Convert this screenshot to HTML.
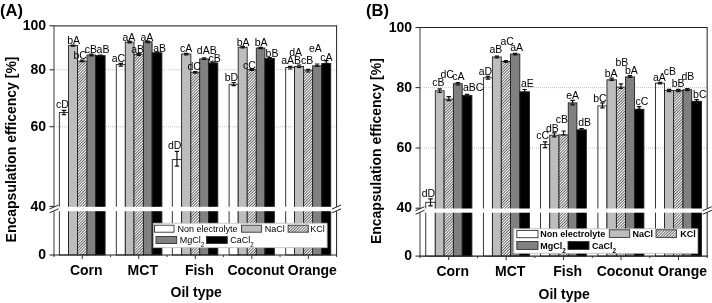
<!DOCTYPE html>
<html><head><meta charset="utf-8"><style>
html,body{margin:0;padding:0;background:#fff;width:712px;height:303px;overflow:hidden}
svg{display:block;will-change:transform}
text{font-family:"Liberation Sans",sans-serif;fill:#000}
.lab{font-size:10.5px;text-anchor:middle}
.tick{font-size:14px;font-weight:bold}
.xl{font-size:14px;font-weight:bold}
.xt{font-size:14px;font-weight:bold}
.ttl{font-size:16.5px;font-weight:bold}
.yl{font-size:14px;font-weight:bold}
.leg{font-size:9px}
.legb{font-size:9px;font-weight:bold}
</style></head><body>
<svg width="712" height="303" viewBox="0 0 712 303">
<defs><pattern id="hatch" patternUnits="userSpaceOnUse" width="2" height="2" patternTransform="rotate(45)"><rect width="2" height="2" fill="#fff"/><rect width="0.8" height="2" fill="#404040"/></pattern></defs>
<line x1="54.0" y1="69.8" x2="336.6" y2="69.8" stroke="#c4c4c4" stroke-width="1" stroke-dasharray="1,1"/>
<line x1="54.0" y1="126.8" x2="336.6" y2="126.8" stroke="#c4c4c4" stroke-width="1" stroke-dasharray="1,1"/>
<rect x="59.35" y="112.50" width="9.20" height="142.50" fill="none" stroke="#222" stroke-width="0.9"/>
<rect x="68.55" y="45.50" width="8.90" height="209.50" fill="#bdbdbd" stroke="#222" stroke-width="0.9"/>
<rect x="77.45" y="61.10" width="9.60" height="193.90" fill="url(#hatch)" stroke="#222" stroke-width="0.9"/>
<rect x="87.05" y="55.00" width="8.65" height="200.00" fill="#808080" stroke="#222" stroke-width="0.9"/>
<rect x="95.70" y="55.60" width="9.40" height="199.40" fill="#000000" stroke="#222" stroke-width="0.9"/>
<path d="M61.75 110.30H66.15M63.95 110.30V114.70M61.75 114.70H66.15" stroke="#111" stroke-width="1.2" fill="none"/>
<path d="M70.80 45.10H75.20M73.00 45.10V46.20M70.80 46.20H75.20" stroke="#111" stroke-width="1.2" fill="none"/>
<path d="M80.05 60.10H84.45M82.25 60.10V61.70M80.05 61.70H84.45" stroke="#111" stroke-width="1.2" fill="none"/>
<path d="M89.17 54.20H93.58M91.38 54.20V55.80M89.17 55.80H93.58" stroke="#111" stroke-width="1.2" fill="none"/>
<path d="M98.20 55.00H102.60M100.40 55.00V56.30M98.20 56.30H102.60" stroke="#111" stroke-width="1.2" fill="none"/>
<text x="62.5" y="107.7" class="lab">cD</text>
<text x="73.6" y="44.2" class="lab">bA</text>
<text x="80.2" y="59.3" class="lab">bC</text>
<text x="90.9" y="52.9" class="lab">cB</text>
<text x="103.0" y="52.9" class="lab">aB</text>
<rect x="116.30" y="64.60" width="9.00" height="190.40" fill="none" stroke="#222" stroke-width="0.9"/>
<rect x="125.30" y="42.10" width="8.70" height="212.90" fill="#bdbdbd" stroke="#222" stroke-width="0.9"/>
<rect x="134.00" y="54.30" width="9.40" height="200.70" fill="url(#hatch)" stroke="#222" stroke-width="0.9"/>
<rect x="143.40" y="41.80" width="8.70" height="213.20" fill="#808080" stroke="#222" stroke-width="0.9"/>
<rect x="152.10" y="52.80" width="9.80" height="202.20" fill="#000000" stroke="#222" stroke-width="0.9"/>
<path d="M118.60 63.45H123.00M120.80 63.45V66.20M118.60 66.20H123.00" stroke="#111" stroke-width="1.2" fill="none"/>
<path d="M127.45 41.30H131.85M129.65 41.30V42.80M127.45 42.80H131.85" stroke="#111" stroke-width="1.2" fill="none"/>
<path d="M136.50 53.60H140.90M138.70 53.60V55.30M136.50 55.30H140.90" stroke="#111" stroke-width="1.2" fill="none"/>
<path d="M145.55 41.10H149.95M147.75 41.10V42.60M145.55 42.60H149.95" stroke="#111" stroke-width="1.2" fill="none"/>
<path d="M154.80 52.10H159.20M157.00 52.10V53.50M154.80 53.50H159.20" stroke="#111" stroke-width="1.2" fill="none"/>
<text x="118.4" y="61.7" class="lab">aC</text>
<text x="128.8" y="41.3" class="lab">aA</text>
<text x="137.6" y="52.8" class="lab">aB</text>
<text x="146.8" y="41.3" class="lab">aA</text>
<text x="159.6" y="51.5" class="lab">aB</text>
<rect x="172.30" y="159.60" width="9.30" height="95.40" fill="none" stroke="#222" stroke-width="0.9"/>
<rect x="181.60" y="54.00" width="9.25" height="201.00" fill="#bdbdbd" stroke="#222" stroke-width="0.9"/>
<rect x="190.85" y="72.30" width="8.85" height="182.70" fill="url(#hatch)" stroke="#222" stroke-width="0.9"/>
<rect x="199.70" y="58.90" width="8.80" height="196.10" fill="#808080" stroke="#222" stroke-width="0.9"/>
<rect x="208.50" y="62.90" width="9.30" height="192.10" fill="#000000" stroke="#222" stroke-width="0.9"/>
<path d="M174.75 151.40H179.15M176.95 151.40V166.20M174.75 166.20H179.15" stroke="#111" stroke-width="1.2" fill="none"/>
<path d="M184.03 53.30H188.42M186.22 53.30V54.80M184.03 54.80H188.42" stroke="#111" stroke-width="1.2" fill="none"/>
<path d="M193.07 71.50H197.47M195.27 71.50V73.10M193.07 73.10H197.47" stroke="#111" stroke-width="1.2" fill="none"/>
<path d="M201.90 57.90H206.30M204.10 57.90V59.50M201.90 59.50H206.30" stroke="#111" stroke-width="1.2" fill="none"/>
<path d="M210.95 62.10H215.35M213.15 62.10V63.60M210.95 63.60H215.35" stroke="#111" stroke-width="1.2" fill="none"/>
<text x="174.7" y="149.2" class="lab">dD</text>
<text x="186.2" y="51.7" class="lab">cA</text>
<text x="194.1" y="70.0" class="lab">dC</text>
<text x="206.8" y="54.0" class="lab">dAB</text>
<text x="214.6" y="62.2" class="lab">cB</text>
<rect x="229.10" y="84.30" width="9.10" height="170.70" fill="none" stroke="#222" stroke-width="0.9"/>
<rect x="238.20" y="47.20" width="9.00" height="207.80" fill="#bdbdbd" stroke="#222" stroke-width="0.9"/>
<rect x="247.20" y="69.60" width="9.10" height="185.40" fill="url(#hatch)" stroke="#222" stroke-width="0.9"/>
<rect x="256.30" y="48.00" width="8.60" height="207.00" fill="#808080" stroke="#222" stroke-width="0.9"/>
<rect x="264.90" y="58.40" width="9.45" height="196.60" fill="#000000" stroke="#222" stroke-width="0.9"/>
<path d="M231.45 82.50H235.85M233.65 82.50V85.60M231.45 85.60H235.85" stroke="#111" stroke-width="1.2" fill="none"/>
<path d="M240.50 46.50H244.90M242.70 46.50V47.90M240.50 47.90H244.90" stroke="#111" stroke-width="1.2" fill="none"/>
<path d="M249.55 68.90H253.95M251.75 68.90V70.30M249.55 70.30H253.95" stroke="#111" stroke-width="1.2" fill="none"/>
<path d="M258.40 47.30H262.80M260.60 47.30V48.70M258.40 48.70H262.80" stroke="#111" stroke-width="1.2" fill="none"/>
<path d="M267.43 57.70H271.82M269.62 57.70V59.10M267.43 59.10H271.82" stroke="#111" stroke-width="1.2" fill="none"/>
<text x="231.5" y="81.1" class="lab">bD</text>
<text x="243.2" y="45.6" class="lab">bA</text>
<text x="249.5" y="68.8" class="lab">cC</text>
<text x="261.1" y="46.0" class="lab">bA</text>
<text x="272.0" y="57.4" class="lab">bB</text>
<rect x="285.70" y="67.50" width="8.85" height="187.50" fill="none" stroke="#222" stroke-width="0.9"/>
<rect x="294.55" y="66.40" width="9.05" height="188.60" fill="#bdbdbd" stroke="#222" stroke-width="0.9"/>
<rect x="303.60" y="70.20" width="9.05" height="184.80" fill="url(#hatch)" stroke="#222" stroke-width="0.9"/>
<rect x="312.65" y="65.80" width="9.05" height="189.20" fill="#808080" stroke="#222" stroke-width="0.9"/>
<rect x="321.70" y="63.50" width="9.05" height="191.50" fill="#000000" stroke="#222" stroke-width="0.9"/>
<path d="M287.93 66.30H292.32M290.12 66.30V69.00M287.93 69.00H292.32" stroke="#111" stroke-width="1.2" fill="none"/>
<path d="M296.88 65.00H301.28M299.08 65.00V67.50M296.88 67.50H301.28" stroke="#111" stroke-width="1.2" fill="none"/>
<path d="M305.93 69.40H310.32M308.12 69.40V72.00M305.93 72.00H310.32" stroke="#111" stroke-width="1.2" fill="none"/>
<path d="M314.97 64.00H319.37M317.17 64.00V66.30M314.97 66.30H319.37" stroke="#111" stroke-width="1.2" fill="none"/>
<path d="M324.03 60.60H328.43M326.23 60.60V63.30M324.03 63.30H328.43" stroke="#111" stroke-width="1.2" fill="none"/>
<text x="291.1" y="64.3" class="lab">aAB</text>
<text x="295.6" y="55.8" class="lab">dA</text>
<text x="307.2" y="64.3" class="lab">cB</text>
<text x="315.4" y="52.3" class="lab">eA</text>
<text x="326.5" y="61.3" class="lab">cA</text>
<rect x="48.0" y="206.8" width="294.6" height="4.399999999999977" fill="#fff"/>
<path d="M54.0 25.8V206.8M54.0 211.2V255.0" stroke="#555" stroke-width="1.15" fill="none"/>
<path d="M53.5 25.8H337.1" stroke="#444" stroke-width="1.2" fill="none"/>
<path d="M336.6 25.8V206.8M336.6 211.2V255.0" stroke="#222" stroke-width="1.0" fill="none"/>
<path d="M53.5 255.0H337.1" stroke="#222" stroke-width="1.1" fill="none"/>
<path d="M49.5 209.0L58.5 205.0M49.5 212.79999999999998L58.5 208.79999999999998" stroke="#222" stroke-width="1"/>
<path d="M332.1 209.0L341.1 205.0M332.1 212.79999999999998L341.1 208.79999999999998" stroke="#222" stroke-width="1"/>
<line x1="49.5" y1="25.8" x2="54.0" y2="25.8" stroke="#333" stroke-width="1.1"/>
<text x="46.0" y="30.0" class="tick" text-anchor="end">100</text>
<line x1="49.5" y1="69.8" x2="54.0" y2="69.8" stroke="#333" stroke-width="1.1"/>
<text x="46.0" y="74.0" class="tick" text-anchor="end">80</text>
<line x1="49.5" y1="126.7" x2="54.0" y2="126.7" stroke="#333" stroke-width="1.1"/>
<text x="46.0" y="130.9" class="tick" text-anchor="end">60</text>
<line x1="49.5" y1="206.4" x2="54.0" y2="206.4" stroke="#333" stroke-width="1.1"/>
<text x="46.0" y="210.6" class="tick" text-anchor="end">40</text>
<line x1="49.5" y1="255.0" x2="54.0" y2="255.0" stroke="#333" stroke-width="1.1"/>
<text x="46.0" y="259.2" class="tick" text-anchor="end">0</text>
<line x1="54.00" y1="255.0" x2="54.00" y2="257.0" stroke="#333" stroke-width="1"/>
<line x1="110.52" y1="255.0" x2="110.52" y2="257.0" stroke="#333" stroke-width="1"/>
<line x1="167.04" y1="255.0" x2="167.04" y2="257.0" stroke="#333" stroke-width="1"/>
<line x1="223.56" y1="255.0" x2="223.56" y2="257.0" stroke="#333" stroke-width="1"/>
<line x1="280.08" y1="255.0" x2="280.08" y2="257.0" stroke="#333" stroke-width="1"/>
<line x1="336.60" y1="255.0" x2="336.60" y2="257.0" stroke="#333" stroke-width="1"/>
<line x1="82.26" y1="255.0" x2="82.26" y2="259.0" stroke="#333" stroke-width="1"/>
<text x="86.26" y="274.5" class="xl" text-anchor="middle">Corn</text>
<line x1="138.78" y1="255.0" x2="138.78" y2="259.0" stroke="#333" stroke-width="1"/>
<text x="142.78" y="274.5" class="xl" text-anchor="middle">MCT</text>
<line x1="195.30" y1="255.0" x2="195.30" y2="259.0" stroke="#333" stroke-width="1"/>
<text x="199.30" y="274.5" class="xl" text-anchor="middle">Fish</text>
<line x1="251.82" y1="255.0" x2="251.82" y2="259.0" stroke="#333" stroke-width="1"/>
<text x="255.82" y="274.5" class="xl" text-anchor="middle">Coconut</text>
<line x1="308.34" y1="255.0" x2="308.34" y2="259.0" stroke="#333" stroke-width="1"/>
<text x="312.34" y="274.5" class="xl" text-anchor="middle">Orange</text>
<rect x="153.3" y="223.2" width="173.8" height="24.5" fill="#fff" stroke="#bbb" stroke-width="0.8"/>
<rect x="154.5" y="225.2" width="19.5" height="7.0" fill="#fff" stroke="#333" stroke-width="0.9"/>
<text x="177.5" y="231.7" class="leg">Non electrolyte</text>
<rect x="241.6" y="225.2" width="19.8" height="7.0" fill="#bdbdbd" stroke="#333" stroke-width="0.9"/>
<text x="264.8" y="231.7" class="leg">NaCl</text>
<rect x="288.1" y="225.2" width="20.2" height="7.0" fill="url(#hatch)" stroke="#333" stroke-width="0.9"/>
<text x="310.3" y="231.7" class="leg">KCl</text>
<rect x="156.0" y="236.5" width="20.7" height="7.0" fill="#808080" stroke="#333" stroke-width="0.9"/>
<text x="179.7" y="243.0" class="leg">MgCl<tspan dy="3.8" font-size="6.3">2</tspan></text>
<rect x="206.5" y="236.5" width="20.8" height="7.0" fill="#000" stroke="#333" stroke-width="0.9"/>
<text x="230.2" y="243.0" class="leg">CaCl<tspan dy="3.8" font-size="6.3">2</tspan></text>
<line x1="420.0" y1="87.6" x2="707.2" y2="87.6" stroke="#c4c4c4" stroke-width="1" stroke-dasharray="1,1"/>
<line x1="420.0" y1="148.1" x2="707.2" y2="148.1" stroke="#c4c4c4" stroke-width="1" stroke-dasharray="1,1"/>
<rect x="425.75" y="202.30" width="9.55" height="53.80" fill="none" stroke="#222" stroke-width="0.9"/>
<rect x="435.30" y="90.80" width="8.80" height="165.30" fill="#bdbdbd" stroke="#222" stroke-width="0.9"/>
<rect x="444.10" y="99.10" width="9.30" height="157.00" fill="url(#hatch)" stroke="#222" stroke-width="0.9"/>
<rect x="453.40" y="83.70" width="8.80" height="172.40" fill="#808080" stroke="#222" stroke-width="0.9"/>
<rect x="462.20" y="95.50" width="9.70" height="160.60" fill="#000000" stroke="#222" stroke-width="0.9"/>
<path d="M428.32 198.90H432.72M430.52 198.90V205.80M428.32 205.80H432.72" stroke="#111" stroke-width="1.2" fill="none"/>
<path d="M437.50 88.80H441.90M439.70 88.80V92.50M437.50 92.50H441.90" stroke="#111" stroke-width="1.2" fill="none"/>
<path d="M446.55 96.60H450.95M448.75 96.60V100.70M446.55 100.70H450.95" stroke="#111" stroke-width="1.2" fill="none"/>
<path d="M455.60 82.60H460.00M457.80 82.60V85.00M455.60 85.00H460.00" stroke="#111" stroke-width="1.2" fill="none"/>
<path d="M464.85 94.40H469.25M467.05 94.40V96.70M464.85 96.70H469.25" stroke="#111" stroke-width="1.2" fill="none"/>
<text x="428.5" y="197.3" class="lab">dD</text>
<text x="438.5" y="86.1" class="lab">cB</text>
<text x="447.2" y="78.2" class="lab">dC</text>
<text x="458.4" y="79.8" class="lab">cA</text>
<text x="473.2" y="91.2" class="lab">aBC</text>
<rect x="483.40" y="77.80" width="9.00" height="178.30" fill="none" stroke="#222" stroke-width="0.9"/>
<rect x="492.40" y="57.00" width="8.90" height="199.10" fill="#bdbdbd" stroke="#222" stroke-width="0.9"/>
<rect x="501.30" y="61.50" width="9.20" height="194.60" fill="url(#hatch)" stroke="#222" stroke-width="0.9"/>
<rect x="510.50" y="54.10" width="9.30" height="202.00" fill="#808080" stroke="#222" stroke-width="0.9"/>
<rect x="519.80" y="91.80" width="9.70" height="164.30" fill="#000000" stroke="#222" stroke-width="0.9"/>
<path d="M485.70 76.40H490.10M487.90 76.40V79.20M485.70 79.20H490.10" stroke="#111" stroke-width="1.2" fill="none"/>
<path d="M494.65 56.20H499.05M496.85 56.20V57.80M494.65 57.80H499.05" stroke="#111" stroke-width="1.2" fill="none"/>
<path d="M503.70 60.70H508.10M505.90 60.70V62.30M503.70 62.30H508.10" stroke="#111" stroke-width="1.2" fill="none"/>
<path d="M512.95 53.30H517.35M515.15 53.30V54.90M512.95 54.90H517.35" stroke="#111" stroke-width="1.2" fill="none"/>
<path d="M522.45 89.50H526.85M524.65 89.50V92.40M522.45 92.40H526.85" stroke="#111" stroke-width="1.2" fill="none"/>
<text x="485.5" y="74.6" class="lab">aD</text>
<text x="495.8" y="53.1" class="lab">aB</text>
<text x="507.1" y="45.1" class="lab">aC</text>
<text x="516.6" y="50.8" class="lab">aA</text>
<text x="527.3" y="86.6" class="lab">aE</text>
<rect x="540.55" y="144.60" width="9.20" height="111.50" fill="none" stroke="#222" stroke-width="0.9"/>
<rect x="549.75" y="135.20" width="9.25" height="120.90" fill="#bdbdbd" stroke="#222" stroke-width="0.9"/>
<rect x="559.00" y="134.90" width="9.25" height="121.20" fill="url(#hatch)" stroke="#222" stroke-width="0.9"/>
<rect x="568.25" y="102.90" width="8.65" height="153.20" fill="#808080" stroke="#222" stroke-width="0.9"/>
<rect x="576.90" y="129.80" width="9.45" height="126.30" fill="#000000" stroke="#222" stroke-width="0.9"/>
<path d="M542.95 141.80H547.35M545.15 141.80V147.60M542.95 147.60H547.35" stroke="#111" stroke-width="1.2" fill="none"/>
<path d="M552.17 132.80H556.58M554.38 132.80V136.90M552.17 136.90H556.58" stroke="#111" stroke-width="1.2" fill="none"/>
<path d="M561.42 131.00H565.83M563.62 131.00V134.80M561.42 134.80H565.83" stroke="#111" stroke-width="1.2" fill="none"/>
<path d="M570.38 100.40H574.78M572.58 100.40V104.90M570.38 104.90H574.78" stroke="#111" stroke-width="1.2" fill="none"/>
<path d="M579.42 128.60H583.83M581.62 128.60V130.80M579.42 130.80H583.83" stroke="#111" stroke-width="1.2" fill="none"/>
<text x="542.7" y="139.0" class="lab">cC</text>
<text x="552.3" y="131.5" class="lab">dB</text>
<text x="561.8" y="123.0" class="lab">cB</text>
<text x="572.6" y="99.0" class="lab">eA</text>
<text x="584.6" y="126.2" class="lab">dB</text>
<rect x="597.90" y="105.90" width="9.05" height="150.20" fill="none" stroke="#222" stroke-width="0.9"/>
<rect x="606.95" y="79.80" width="9.45" height="176.30" fill="#bdbdbd" stroke="#222" stroke-width="0.9"/>
<rect x="616.40" y="87.10" width="9.05" height="169.00" fill="url(#hatch)" stroke="#222" stroke-width="0.9"/>
<rect x="625.45" y="76.90" width="9.05" height="179.20" fill="#808080" stroke="#222" stroke-width="0.9"/>
<rect x="634.50" y="109.30" width="9.40" height="146.80" fill="#000000" stroke="#222" stroke-width="0.9"/>
<path d="M600.22 102.90H604.62M602.42 102.90V107.90M600.22 107.90H604.62" stroke="#111" stroke-width="1.2" fill="none"/>
<path d="M609.47 78.10H613.88M611.67 78.10V80.40M609.47 80.40H613.88" stroke="#111" stroke-width="1.2" fill="none"/>
<path d="M618.72 83.80H623.12M620.92 83.80V88.40M618.72 88.40H623.12" stroke="#111" stroke-width="1.2" fill="none"/>
<path d="M627.77 75.70H632.18M629.98 75.70V77.40M627.77 77.40H632.18" stroke="#111" stroke-width="1.2" fill="none"/>
<path d="M637.00 106.70H641.40M639.20 106.70V109.40M637.00 109.40H641.40" stroke="#111" stroke-width="1.2" fill="none"/>
<text x="600.0" y="101.5" class="lab">bC</text>
<text x="611.2" y="76.8" class="lab">bA</text>
<text x="621.8" y="65.6" class="lab">bB</text>
<text x="631.3" y="73.5" class="lab">bA</text>
<text x="642.0" y="104.6" class="lab">cC</text>
<rect x="655.50" y="83.20" width="9.05" height="172.90" fill="none" stroke="#222" stroke-width="0.9"/>
<rect x="664.55" y="90.50" width="9.05" height="165.60" fill="#bdbdbd" stroke="#222" stroke-width="0.9"/>
<rect x="673.60" y="90.50" width="9.45" height="165.60" fill="url(#hatch)" stroke="#222" stroke-width="0.9"/>
<rect x="683.05" y="89.70" width="8.65" height="166.40" fill="#808080" stroke="#222" stroke-width="0.9"/>
<rect x="691.70" y="101.30" width="9.85" height="154.80" fill="#000000" stroke="#222" stroke-width="0.9"/>
<path d="M657.82 82.40H662.23M660.02 82.40V84.00M657.82 84.00H662.23" stroke="#111" stroke-width="1.2" fill="none"/>
<path d="M666.88 89.40H671.28M669.08 89.40V91.60M666.88 91.60H671.28" stroke="#111" stroke-width="1.2" fill="none"/>
<path d="M676.12 89.40H680.53M678.33 89.40V91.60M676.12 91.60H680.53" stroke="#111" stroke-width="1.2" fill="none"/>
<path d="M685.17 88.70H689.58M687.38 88.70V90.70M685.17 90.70H689.58" stroke="#111" stroke-width="1.2" fill="none"/>
<path d="M694.42 99.60H698.83M696.62 99.60V101.90M694.42 101.90H698.83" stroke="#111" stroke-width="1.2" fill="none"/>
<text x="659.4" y="80.8" class="lab">aA</text>
<text x="669.8" y="74.9" class="lab">cB</text>
<text x="678.2" y="86.7" class="lab">bB</text>
<text x="687.9" y="79.8" class="lab">dB</text>
<text x="699.8" y="97.6" class="lab">bC</text>
<rect x="414.0" y="208.5" width="299.20000000000005" height="4.199999999999989" fill="#fff"/>
<path d="M420.0 27.5V208.5M420.0 212.7V256.1" stroke="#555" stroke-width="1.15" fill="none"/>
<path d="M419.5 27.5H707.7" stroke="#222" stroke-width="1.0" fill="none"/>
<path d="M707.2 27.5V208.5M707.2 212.7V256.1" stroke="#444" stroke-width="1.2" fill="none"/>
<path d="M419.5 256.1H707.7" stroke="#222" stroke-width="1.1" fill="none"/>
<path d="M415.5 210.7L424.5 206.7M415.5 214.29999999999998L424.5 210.29999999999998" stroke="#222" stroke-width="1"/>
<path d="M702.7 210.7L711.7 206.7M702.7 214.29999999999998L711.7 210.29999999999998" stroke="#222" stroke-width="1"/>
<line x1="415.5" y1="27.5" x2="420.0" y2="27.5" stroke="#333" stroke-width="1.1"/>
<text x="412.0" y="31.7" class="tick" text-anchor="end">100</text>
<line x1="415.5" y1="87.6" x2="420.0" y2="87.6" stroke="#333" stroke-width="1.1"/>
<text x="412.0" y="91.8" class="tick" text-anchor="end">80</text>
<line x1="415.5" y1="148.0" x2="420.0" y2="148.0" stroke="#333" stroke-width="1.1"/>
<text x="412.0" y="152.2" class="tick" text-anchor="end">60</text>
<line x1="415.5" y1="208.2" x2="420.0" y2="208.2" stroke="#333" stroke-width="1.1"/>
<text x="412.0" y="212.39999999999998" class="tick" text-anchor="end">40</text>
<line x1="415.5" y1="256.1" x2="420.0" y2="256.1" stroke="#333" stroke-width="1.1"/>
<text x="412.0" y="260.3" class="tick" text-anchor="end">0</text>
<line x1="420.00" y1="256.1" x2="420.00" y2="258.1" stroke="#333" stroke-width="1"/>
<line x1="477.44" y1="256.1" x2="477.44" y2="258.1" stroke="#333" stroke-width="1"/>
<line x1="534.88" y1="256.1" x2="534.88" y2="258.1" stroke="#333" stroke-width="1"/>
<line x1="592.32" y1="256.1" x2="592.32" y2="258.1" stroke="#333" stroke-width="1"/>
<line x1="649.76" y1="256.1" x2="649.76" y2="258.1" stroke="#333" stroke-width="1"/>
<line x1="707.20" y1="256.1" x2="707.20" y2="258.1" stroke="#333" stroke-width="1"/>
<line x1="448.72" y1="256.1" x2="448.72" y2="260.1" stroke="#333" stroke-width="1"/>
<text x="452.72" y="275.6" class="xl" text-anchor="middle">Corn</text>
<line x1="506.16" y1="256.1" x2="506.16" y2="260.1" stroke="#333" stroke-width="1"/>
<text x="510.16" y="275.6" class="xl" text-anchor="middle">MCT</text>
<line x1="563.60" y1="256.1" x2="563.60" y2="260.1" stroke="#333" stroke-width="1"/>
<text x="567.60" y="275.6" class="xl" text-anchor="middle">Fish</text>
<line x1="621.04" y1="256.1" x2="621.04" y2="260.1" stroke="#333" stroke-width="1"/>
<text x="625.04" y="275.6" class="xl" text-anchor="middle">Coconut</text>
<line x1="678.48" y1="256.1" x2="678.48" y2="260.1" stroke="#333" stroke-width="1"/>
<text x="682.48" y="275.6" class="xl" text-anchor="middle">Orange</text>
<rect x="513.8" y="228.8" width="184.0" height="24.5" fill="#fff" stroke="#bbb" stroke-width="0.8"/>
<rect x="516.8" y="230.4" width="21.2" height="7.3" fill="#fff" stroke="#333" stroke-width="0.9"/>
<text x="540.3" y="237.20000000000002" class="legb">Non electrolyte</text>
<rect x="609.3" y="229.8" width="20.4" height="7.6" fill="#bdbdbd" stroke="#333" stroke-width="0.9"/>
<text x="632.5" y="236.9" class="legb">NaCl</text>
<rect x="656.0" y="229.8" width="20.5" height="7.6" fill="url(#hatch)" stroke="#333" stroke-width="0.9"/>
<text x="680.2" y="236.9" class="legb">KCl</text>
<rect x="516.8" y="241.5" width="21.2" height="7.9" fill="#808080" stroke="#333" stroke-width="0.9"/>
<text x="540.3" y="248.9" class="legb">MgCl<tspan dy="3.8" font-size="6.3">2</tspan></text>
<rect x="568.0" y="241.5" width="21.0" height="7.9" fill="#000" stroke="#333" stroke-width="0.9"/>
<text x="592.0" y="248.9" class="legb">CaCl<tspan dy="3.8" font-size="6.3">2</tspan></text>
<text x="0" y="15.8" class="ttl">(A)</text>
<text x="366" y="16.0" class="ttl">(B)</text>
<text transform="translate(15.6,242.4) rotate(-90)" class="yl">Encapsulation efficency [%]</text>
<text transform="translate(380.8,244.1) rotate(-90)" class="yl">Encapsulation efficency [%]</text>
<text x="170.5" y="297" class="xt">Oil type</text>
<text x="538.5" y="299" class="xt">Oil type</text>
</svg>
</body></html>
